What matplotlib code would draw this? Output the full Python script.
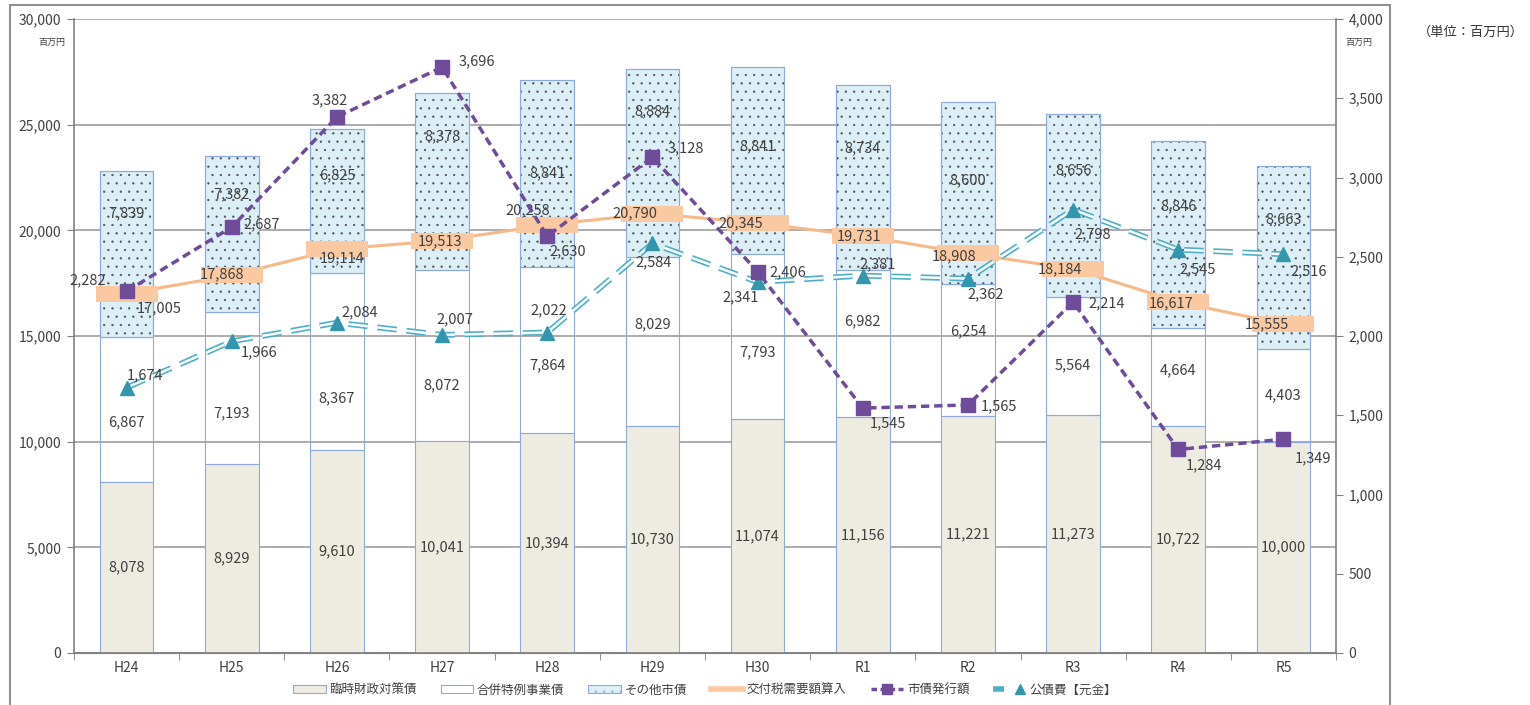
import numpy as np
import matplotlib.pyplot as plt
from matplotlib.patches import Rectangle, Patch
from matplotlib.lines import Line2D
from matplotlib.legend_handler import HandlerTuple
from matplotlib.ticker import FuncFormatter

plt.rcParams['font.family'] = ['Noto Sans CJK JP', 'DejaVu Sans']
plt.rcParams['lines.scale_dashes'] = False
plt.rcParams['hatch.linewidth'] = 0.4

years = ["H24", "H25", "H26", "H27", "H28", "H29", "H30", "R1", "R2", "R3", "R4", "R5"]
rinji = [8078, 8929, 9610, 10041, 10394, 10730, 11074, 11156, 11221, 11273, 10722, 10000]
gappei = [6867, 7193, 8367, 8072, 7864, 8029, 7793, 6982, 6254, 5564, 4664, 4403]
sonota = [7839, 7382, 6825, 8378, 8841, 8884, 8841, 8734, 8600, 8656, 8846, 8663]
koufuzei = [17005, 17868, 19114, 19513, 20258, 20790, 20345, 19731, 18908, 18184, 16617, 15555]
shisai = [2282, 2687, 3382, 3696, 2630, 3128, 2406, 1545, 1565, 2214, 1284, 1349]
kousaihi = [1674, 1966, 2084, 2007, 2022, 2584, 2341, 2381, 2362, 2798, 2545, 2516]

# hand placed label offsets (pixels, y down) like in the source chart
off_koufu = [(33, 15), (-10, -1), (5, 9), (-2, 1), (-19, -15), (-17, 0), (-17, 0),
             (-4, 0), (-14, 3), (-13, 1), (-7, 1), (-17, 0)]
off_shisai = [(-39, -11), (30, -3), (-7, -17), (35, -6), (21, 15), (33, -9), (30, 1),
              (25, 15), (31, 1), (34, 1), (26, 16), (30, 19)]
off_kousai = [(18, -12), (27, 11), (23, -10), (13, -16), (2, -22), (1, 19), (-17, 15),
              (15, -11), (18, 16), (20, 25), (19, 20), (25, 17)]
off_sonota = [-41, -40, -26, -45, 0, -51, -15, -29, -13, -35, -28, -38]
off_gappei = [13, 25, 37, 30, 15, -17, 16, -22, -18, 9, -7, 0]

txt = '#404040'
edge = '#8EAADB'
grid_c = '#A6A6A6'
purple = '#6E4C9A'
teal_line = '#4FAFC8'
teal_mark = '#3496AE'
orange = '#F6B989'
peach = '#FAC9A2'
fs = 10.5

fig = plt.figure(figsize=(15.3, 7.05), dpi=100)
ax = fig.add_axes([74 / 1530, 52 / 705, (1336 - 74) / 1530, (653 - 19) / 705])
ax2 = ax.twinx()

x = np.arange(len(years))
w = 0.51
rinji = np.array(rinji)
gappei = np.array(gappei)
sonota = np.array(sonota)
b2 = rinji + gappei

ax.bar(x, rinji, w, color='#EEECE1', edgecolor=edge, linewidth=0.8, zorder=2)
ax.bar(x, gappei, w, bottom=rinji, color='none', edgecolor=edge, linewidth=0.8, zorder=2)
ax.bar(x, sonota, w, bottom=b2, color='#DCEFF6', edgecolor=edge, linewidth=0.8, zorder=2)
ax.bar(x, sonota, w, bottom=b2, color='none', edgecolor='#505050', linewidth=0,
       hatch='..', zorder=2.1)
ax.bar(x, sonota, w, bottom=b2, color='none', edgecolor=edge, linewidth=0.8, zorder=2.2)

def pt(dx, dy):
    return (dx * 0.72, -dy * 0.72)

for i in range(len(years)):
    ax.text(x[i], rinji[i] / 2, f"{rinji[i]:,}", ha='center', va='center',
            fontsize=fs, color=txt, zorder=5)
    ax.annotate(f"{gappei[i]:,}", (x[i], rinji[i] + gappei[i] / 2),
                xytext=pt(0, off_gappei[i]), textcoords='offset points',
                ha='center', va='center', fontsize=fs, color=txt, zorder=5)
    ax.annotate(f"{sonota[i]:,}", (x[i], b2[i] + sonota[i] / 2),
                xytext=pt(0, off_sonota[i]), textcoords='offset points',
                ha='center', va='center', fontsize=fs, color=txt, zorder=5)

# 交付税需要額算入 line with box labels
box = [(-1, -0.27), (1, -0.27), (1, 0.27), (-1, 0.27), (-1, -0.27)]
ax.plot(x, koufuzei, color=orange, lw=2.2, zorder=3)
ax.plot(x, koufuzei, ls='none', marker=box, markersize=45, markerfacecolor=peach,
        markeredgewidth=0, zorder=3.5)
for i in range(len(years)):
    ax.annotate(f"{koufuzei[i]:,}", (x[i], koufuzei[i]), xytext=pt(*off_koufu[i]),
                textcoords='offset points', ha='center', va='center',
                fontsize=fs, color=txt, zorder=6)

# right axis lines
ax2.plot(x, kousaihi, color=teal_line, lw=4.2, dashes=(14, 7), zorder=3)
ax2.plot(x, kousaihi, color='white', lw=1.8, dashes=(14, 7), zorder=3.1)
ax2.plot(x, kousaihi, ls='none', marker='^', markersize=10, color=teal_mark, zorder=3.2)
ax2.plot(x, shisai, color=purple, lw=2.5, dashes=(6, 3.5), marker='s', markersize=10,
         markerfacecolor=purple, markeredgecolor=purple, zorder=4)
for i in range(len(years)):
    ax2.annotate(f"{shisai[i]:,}", (x[i], shisai[i]), xytext=pt(*off_shisai[i]),
                 textcoords='offset points', ha='center', va='center',
                 fontsize=fs, color=txt, zorder=6)
    ax2.annotate(f"{kousaihi[i]:,}", (x[i], kousaihi[i]), xytext=pt(*off_kousai[i]),
                 textcoords='offset points', ha='center', va='center',
                 fontsize=fs, color=txt, zorder=6)

# axes styling
ax.set_xlim(-0.5, len(years) - 0.5)
ax.set_ylim(0, 30000)
ax2.set_ylim(0, 4000)
ax.set_yticks(np.arange(0, 30001, 5000))
ax2.set_yticks(np.arange(0, 4001, 500))
fmt = FuncFormatter(lambda v, p: f"{int(v):,}")
ax.yaxis.set_major_formatter(fmt)
ax2.yaxis.set_major_formatter(fmt)
ax.set_xticks(x)
ax.set_xticklabels(years)
ax.set_xticks(np.arange(-0.5, len(years)), minor=True)
ax.tick_params(axis='x', which='major', length=0, pad=6, labelsize=10, labelcolor=txt)
ax.tick_params(axis='x', which='minor', length=5, color='#808080', direction='out')
ax.tick_params(axis='y', length=5, color='#808080', labelsize=10, labelcolor=txt, pad=4)
ax2.tick_params(axis='y', length=5, color='#808080', labelsize=10, labelcolor=txt, pad=4)
ax.grid(axis='y', color=grid_c, lw=1.3, zorder=0)
ax.set_axisbelow(True)
for a in (ax, ax2):
    for s in a.spines.values():
        s.set_visible(False)
    a.spines['bottom'].set_visible(True)
    a.spines['bottom'].set_color('#808080')
ax.spines['left'].set_visible(True)
ax.spines['left'].set_color('#808080')
ax2.spines['right'].set_visible(True)
ax2.spines['right'].set_color('#808080')
ax.spines['left'].set_linewidth(1.2)
ax2.spines['right'].set_linewidth(1.2)
ax.spines['bottom'].set_linewidth(1.2)

fig.text(65 / 1530, 1 - 42 / 705, "百万円", ha='right', va='center', fontsize=6.5, color=txt)
fig.text(1345 / 1530, 1 - 42 / 705, "百万円", ha='left', va='center', fontsize=6.5, color=txt)
fig.text(1524 / 1530, 1 - 32 / 705, "（単位：百万円）", ha='right', va='center',
         fontsize=9.5, color='#333333')

# outer frame
fig.patches.append(Rectangle((10 / 1530, -0.05), 1380 / 1530, 1.05 - 5 / 705,
                             transform=fig.transFigure, fill=False,
                             edgecolor='#909090', lw=1.5))

# legend
h_rinji = Patch(facecolor='#EEECE1', edgecolor=edge, lw=0.8)
h_gappei = Patch(facecolor='white', edgecolor=edge, lw=0.8)
h_sonota = Patch(facecolor='#DCEFF6', edgecolor=edge, hatch='..', lw=0.8)
h_koufu = Line2D([], [], color=peach, lw=4)
h_shisai = Line2D([], [], color=purple, lw=2.5, dashes=(4, 2.5), marker='s',
                  markersize=7)
h_k1 = Line2D([], [], color=teal_line, lw=4, dashes=(11, 6))
h_k2 = Line2D([], [], color='white', lw=1.6, dashes=(11, 6))
h_k3 = Line2D([], [], ls='none', marker='^', markersize=7, color=teal_mark)
fig.legend([h_rinji, h_gappei, h_sonota, h_koufu, h_shisai, (h_k1, h_k2, h_k3)],
           ["臨時財政対策債", "合併特例事業債", "その他市債", "交付税需要額算入",
            "市債発行額", "公債費【元金】"],
           handler_map={tuple: HandlerTuple(ndivide=None, pad=0)},
           loc='center', bbox_to_anchor=(705 / 1530, 15 / 705), ncol=6,
           frameon=False, fontsize=9, handlelength=2.6, handleheight=0.6,
           columnspacing=1.9, handletextpad=0.3, labelcolor=txt)

fig.savefig('out.png', dpi=100)
